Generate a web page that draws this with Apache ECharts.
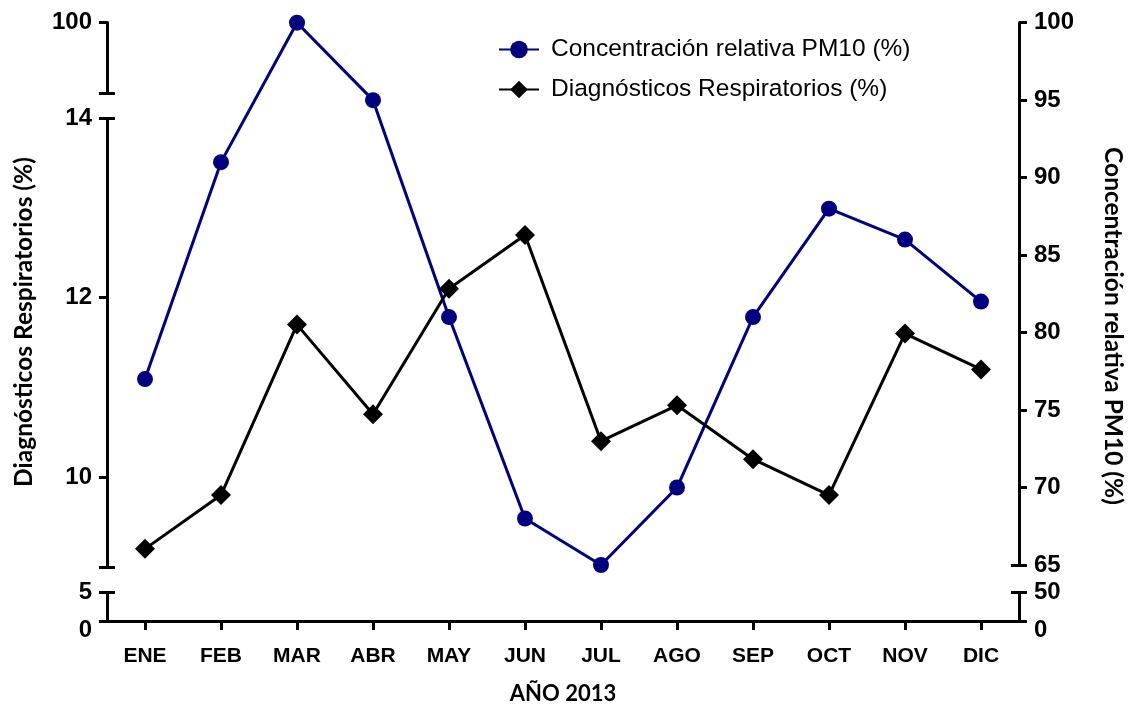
<!DOCTYPE html>
<html>
<head>
<meta charset="utf-8">
<script src="https://cdn.jsdelivr.net/npm/echarts@6/dist/echarts.min.js"></script>
<style>
html,body{margin:0;padding:0;background:#fff;}
#chart{width:1130px;height:706px;}
</style>
</head>
<body>
<div id="chart"></div>
<script>
const months = ['ENE','FEB','MAR','ABR','MAY','JUN','JUL','AGO','SEP','OCT','NOV','DIC'];
const pm10 = [77, 91, 100, 95, 81, 68, 65, 70, 81, 88, 86, 82];
const diag = [9.2, 9.8, 11.7, 10.7, 12.1, 12.7, 10.4, 10.8, 10.2, 9.8, 11.6, 11.2];
const pm10Name = 'Concentración relativa PM10 (%)';
const diagName = 'Diagnósticos Respiratorios (%)';
const xTitle = 'AÑO 2013';

const L = 107, R = 1130 - 1019;
const lab = {fontFamily: 'Liberation Sans, Arial', fontWeight: 'bold', fontSize: 24, color: '#000',
             verticalAlignMinLabel: 'middle', verticalAlignMaxLabel: 'middle', hideOverlap: false,
             padding: [4, 0, 0, 0]};
const axLine = {show: true, lineStyle: {color: '#000', width: 3}};
const tickOut = (vals) => ({show: true, length: 8, lineStyle: {color: '#000', width: 3}, customValues: vals});
const tickIn = (vals) => ({show: true, inside: true, length: 8, lineStyle: {color: '#000', width: 3}, customValues: vals});

function hiddenX(gi){
  return {type: 'category', gridIndex: gi, data: months, boundaryGap: true, show: false};
}
function yax(opt){
  return Object.assign({type: 'value', splitLine: {show: false}}, opt);
}

const chart = echarts.init(document.getElementById('chart'));
chart.setOption({
  animation: false,
  backgroundColor: '#fff',
  grid: [
    {left: L, right: R, top: 22.7, height: 542.3},   // PM10 main
    {left: L, right: R, top: 118.3, height: 448.5},  // Diagnosticos main (9-14)
    {left: L, right: R, top: 22.5, height: 70.8},    // left top segment
    {left: L, right: R, top: 592.5, height: 37.5},   // bottom segment
    {left: L, right: R, top: 600, height: 60}        // zero labels (0 at y=630)
  ],
  xAxis: [
    hiddenX(0), hiddenX(1), hiddenX(2),
    {type: 'category', gridIndex: 3, data: months, boundaryGap: true,
     axisLine: axLine,
     axisTick: {show: true, alignWithLabel: true, length: 9, lineStyle: {color: '#000', width: 3}},
     axisLabel: {fontFamily: 'Liberation Sans, Arial', fontWeight: 'bold', fontSize: 21, color: '#000', margin: 25},
     name: xTitle, nameLocation: 'middle', nameGap: 62,
     nameTextStyle: {fontFamily: 'Lato', fontWeight: 'bold', fontSize: 22, color: '#000'}},
    hiddenX(4)
  ],
  yAxis: [
    yax({gridIndex: 0, position: 'right', min: 65, max: 100, interval: 5,
         axisLine: axLine, axisTick: {show: true, length: 8, lineStyle: {color: '#000', width: 3}},
         axisLabel: Object.assign({margin: 15}, lab)}),
    yax({gridIndex: 0, position: 'right', min: 65, max: 100, axisLine: {show: false},
         axisTick: tickIn([65]), axisLabel: {show: false}}),
    yax({gridIndex: 1, position: 'left', min: 9, max: 14,
         axisLine: axLine, axisTick: tickOut([9, 10, 12, 14]),
         axisLabel: Object.assign({margin: 15, customValues: [10, 12, 14]}, lab)}),
    yax({gridIndex: 1, position: 'left', min: 9, max: 14, axisLine: {show: false},
         axisTick: tickIn([9, 14]), axisLabel: {show: false}}),
    yax({gridIndex: 2, position: 'left', min: 0, max: 100,
         axisLine: axLine, axisTick: tickOut([0, 100]),
         axisLabel: Object.assign({margin: 15, customValues: [100]}, lab)}),
    yax({gridIndex: 2, position: 'left', min: 0, max: 100, axisLine: {show: false},
         axisTick: tickIn([0]), axisLabel: {show: false}}),
    yax({gridIndex: 3, position: 'left', min: 0, max: 5,
         axisLine: axLine, axisTick: tickOut([0, 5]),
         axisLabel: Object.assign({margin: 15, customValues: [5]}, lab)}),
    yax({gridIndex: 3, position: 'left', min: 0, max: 5, axisLine: {show: false},
         axisTick: tickIn([5]), axisLabel: {show: false}}),
    yax({gridIndex: 3, position: 'right', min: 0, max: 50,
         axisLine: axLine, axisTick: tickOut([0, 50]),
         axisLabel: Object.assign({margin: 15, customValues: [50]}, lab)}),
    yax({gridIndex: 3, position: 'right', min: 0, max: 50, axisLine: {show: false},
         axisTick: tickIn([50]), axisLabel: {show: false}}),
    yax({gridIndex: 4, position: 'left', min: -5, max: 5, axisLine: {show: false}, axisTick: {show: false},
         axisLabel: Object.assign({margin: 15, customValues: [0]}, lab)}),
    yax({gridIndex: 4, position: 'right', min: -50, max: 50, axisLine: {show: false}, axisTick: {show: false},
         axisLabel: Object.assign({margin: 15, customValues: [0]}, lab)})
  ],
  legend: {
    orient: 'vertical', left: 493, top: 32, itemGap: 15, itemWidth: 40, itemHeight: 22,
    textStyle: {fontFamily: 'Liberation Sans, Arial', fontSize: 24.5, color: '#000', padding: [0, 0, 0, 7]},
    data: [pm10Name, diagName]
  },
  graphic: [
    {type: 'text', x: 24, y: 322, rotation: Math.PI / 2,
     style: {text: diagName, fontFamily: 'Lato', fontWeight: 'bold', fontSize: 24.5, fill: '#000',
             textAlign: 'center', textVerticalAlign: 'middle'}},
    {type: 'text', x: 1113, y: 326, rotation: -Math.PI / 2,
     style: {text: pm10Name, fontFamily: 'Lato', fontWeight: 'bold', fontSize: 24.5, fill: '#000',
             textAlign: 'center', textVerticalAlign: 'middle'}}
  ],
  series: [
    {name: pm10Name, type: 'line', xAxisIndex: 0, yAxisIndex: 0, data: pm10,
     symbol: 'circle', symbolSize: 16, clip: false,
     itemStyle: {color: '#000080'}, lineStyle: {color: '#000080', width: 3}},
    {name: diagName, type: 'line', xAxisIndex: 1, yAxisIndex: 2, data: diag,
     symbol: 'diamond', symbolSize: 20, clip: false,
     itemStyle: {color: '#000'}, lineStyle: {color: '#000', width: 3}}
  ]
});
</script>
</body>
</html>
